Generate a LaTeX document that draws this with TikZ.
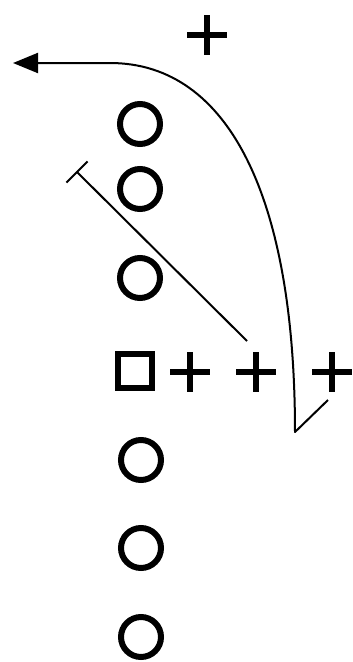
\documentclass[tikz,border=0pt]{standalone}
\usetikzlibrary{arrows.meta,calc}
\begin{document}
\begin{tikzpicture}[x=1pt,y=-1pt,
  player/.style={circle,draw,line width=6pt,minimum size=40pt,inner sep=0pt},
  center/.style={rectangle,draw,line width=6pt,minimum size=34pt,inner sep=0pt},
  defender/.style={rectangle,minimum size=40pt,inner sep=0pt,
    path picture={\draw[line width=6.5pt]
      (path picture bounding box.west) -- (path picture bounding box.east)
      (path picture bounding box.north) -- (path picture bounding box.south);}},
  route/.style={line width=2pt,line join=round},
  block/.style={line width=2pt}]
\useasboundingbox (0,0) rectangle (353,662);
\node[player] (o1) at (140,124) {};
\node[player] (o2) at (140,189) {};
\node[player] (o3) at (140,278) {};
\node[center] (c) at (135,371) {};
\node[player] (o4) at (141,460) {};
\node[player] (o5) at (141,548) {};
\node[player] (o6) at (141,637) {};
\node[defender] (d1) at (190,372) {};
\node[defender] (d2) at (256,372) {};
\node[defender] (d3) at (332,372) {};
\node[defender] (d4) at (207,35) {};
% route
\coordinate (rs) at (328,400);
\coordinate (rb) at (295,432);
\coordinate (rt) at (110,63);
\coordinate (re) at (13,63);
\draw[route,-{Triangle[length=25pt,width=20pt]}] (rs) -- (rb) .. controls (295,200) and (230,63) .. (rt) -- (re);
% block
\coordinate (bs) at (247,341);
\coordinate (be) at (77,172);
\draw[block] (bs) -- (be);
\draw[block] ($(be)!15pt!90:(bs)$) -- ($(be)!15pt!-90:(bs)$);
\end{tikzpicture}
\end{document}
